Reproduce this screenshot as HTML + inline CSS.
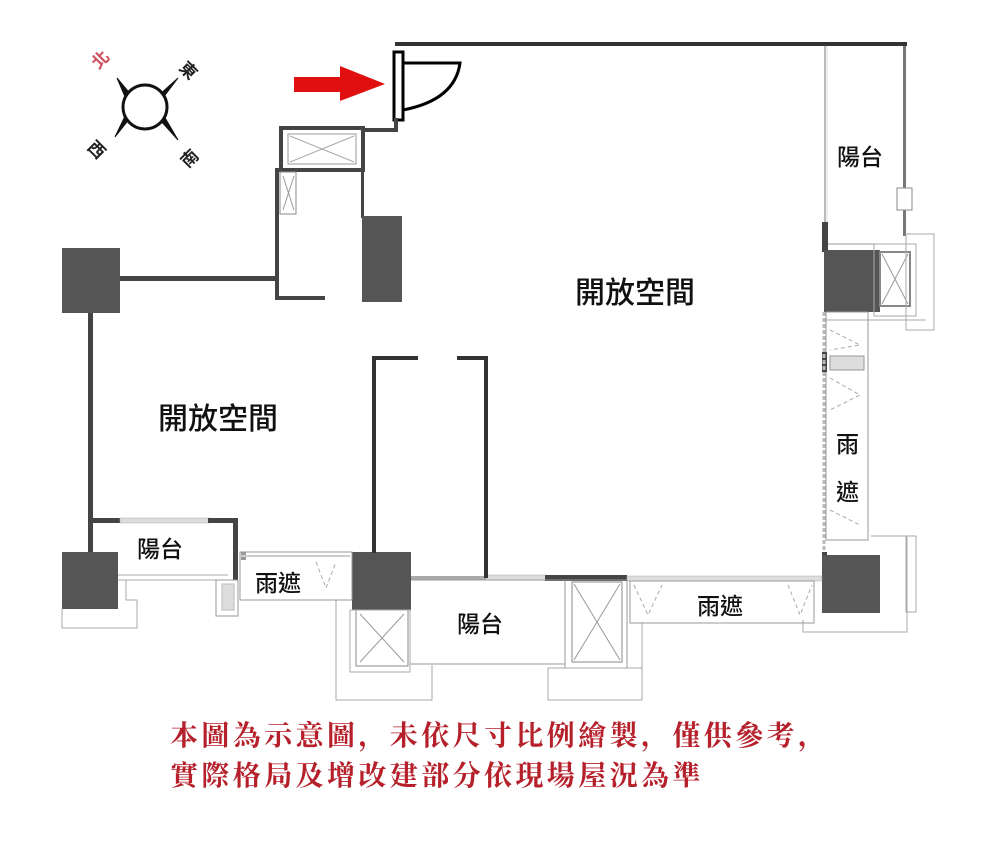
<!DOCTYPE html>
<html><head><meta charset="utf-8"><style>
html,body{margin:0;padding:0;background:#fff;}
svg{display:block;}
.lbl{font-family:"Liberation Sans","Noto Sans CJK TC",sans-serif;font-size:23px;fill:#111;font-weight:500;}
.big{font-size:30px;}
.red{font-family:"Liberation Serif","Noto Serif CJK SC",serif;font-size:28px;fill:#b5202a;letter-spacing:3.4px;font-weight:bold;}
.cmp{font-family:"Noto Sans CJK TC",sans-serif;font-size:17px;font-weight:bold;}
</style></head><body>
<svg width="1000" height="844" viewBox="0 0 1000 844" xmlns="http://www.w3.org/2000/svg">
<rect width="1000" height="844" fill="#fff"/>
<!-- compass -->
<g stroke="#111" fill="#fff">
<path d="M117,78 L132,96 L126,99 Z" fill="#111"/>
<path d="M178,78 L158,96 L162,99 Z" fill="#111"/>
<path d="M115,137 L130,118 L126,114 Z" fill="#111"/>
<path d="M178,140 L160,120 L164,116 Z" fill="#111"/>
<circle cx="145" cy="107" r="22" stroke-width="3"/>
</g>
<text class="cmp" x="92" y="66" transform="rotate(-45 100 60)" fill="#d05060">北</text>
<text class="cmp" x="180" y="76" transform="rotate(45 188 70)" fill="#222">東</text>
<text class="cmp" x="88" y="156" transform="rotate(45 97 150)" fill="#222">西</text>
<text class="cmp" x="181" y="164" transform="rotate(-45 190 158)" fill="#222">南</text>
<!-- red arrow -->
<path d="M294,77 L340,77 L340,66 L385,84 L340,101 L340,92 L294,92 Z" fill="#e01010"/>
<!-- entrance door -->
<rect x="394" y="52" width="9" height="68" fill="#fff" stroke="#000" stroke-width="3"/>
<path d="M403,63 L460,63 Q455,100 403,110" fill="none" stroke="#000" stroke-width="3"/>
<!-- top wall -->
<rect x="395" y="42" width="512" height="4" fill="#333"/>
<!-- right top balcony -->
<rect x="824" y="46" width="4" height="176" fill="#bbb"/>
<line x1="827" y1="46" x2="827" y2="222" stroke="#fff" stroke-width="1.5"/>
<rect x="903" y="46" width="3" height="190" fill="#777"/>
<rect x="897" y="188" width="15" height="22" fill="#fff" stroke="#888"/>
<rect x="822" y="222" width="6" height="30" fill="#444"/>
<line x1="828" y1="244" x2="906" y2="244" stroke="#999"/>
<!-- right pillar + X box -->
<rect x="824" y="250" width="56" height="62" fill="#555"/>
<rect x="880" y="252" width="30" height="54" fill="#fff" stroke="#888" stroke-width="2"/>
<path d="M882,254 L908,304 M908,254 L882,304" stroke="#999"/>
<rect x="874" y="244" width="42" height="72" fill="none" stroke="#aaa"/>
<rect x="906" y="234" width="28" height="96" fill="none" stroke="#aaa"/>
<line x1="826" y1="320" x2="926" y2="320" stroke="#aaa"/>
<!-- right rain shelter column -->
<rect x="826" y="312" width="42" height="228" fill="none" stroke="#999"/>
<rect x="822" y="352" width="5" height="20" fill="#444"/>
<rect x="830" y="356" width="34" height="14" fill="#ddd" stroke="#999"/>
<path d="M830,330 L860,345 L830,350 M830,378 L860,395 L830,410 M830,510 L860,525" stroke="#aaa" stroke-dasharray="4,3" fill="none"/>
<line x1="824" y1="312" x2="824" y2="555" stroke="#bbb" stroke-width="3" stroke-dasharray="4,2"/>
<!-- right bottom pillar -->
<rect x="906" y="536" width="10" height="76" fill="none" stroke="#aaa"/>
<path d="M871,536 L907,536 L907,632 L803,632 L803,620" fill="none" stroke="#aaa"/>
<rect x="822" y="552" width="5" height="30" fill="#444"/>
<rect x="822" y="555" width="58" height="58" fill="#555"/>
<!-- main bottom wall -->
<rect x="410" y="576" width="76" height="4" fill="#aaa"/>
<rect x="486" y="575" width="60" height="5" fill="#ddd" stroke="#aaa" stroke-width="0.5"/>
<rect x="545" y="575" width="82" height="6" fill="#444"/>
<rect x="627" y="576" width="195" height="5" fill="#ddd" stroke="#aaa" stroke-width="0.5"/>
<!-- bottom rain shelter -->
<rect x="630" y="581" width="184" height="42" fill="none" stroke="#999"/>
<path d="M634,585 L648,615 L662,585 M788,585 L800,615 L812,585" stroke="#aaa" stroke-dasharray="4,3" fill="none"/>
<!-- bottom balcony -->
<rect x="410" y="580" width="155" height="84" fill="none" stroke="#999"/>
<rect x="565" y="580" width="62" height="88" fill="none" stroke="#999"/>
<rect x="572" y="582" width="50" height="80" fill="none" stroke="#888"/>
<path d="M574,584 L620,660 M620,584 L574,660" stroke="#999"/>
<rect x="548" y="668" width="94" height="32" fill="none" stroke="#aaa"/>
<line x1="642" y1="622" x2="642" y2="700" stroke="#aaa"/>
<!-- bottom pillar center -->
<rect x="352" y="552" width="59" height="58" fill="#555"/>
<rect x="356" y="610" width="52" height="56" fill="none" stroke="#888"/>
<path d="M360,614 L404,662 M404,614 L360,662" stroke="#999"/>
<rect x="350" y="610" width="60" height="62" fill="none" stroke="#aaa"/>
<path d="M336,600 L336,700 L432,700 L432,665" fill="none" stroke="#aaa"/>
<!-- partitions -->
<path d="M418,358 L374,358 L374,553" fill="none" stroke="#333" stroke-width="4"/>
<path d="M457,358 L486,358 L486,578" fill="none" stroke="#333" stroke-width="4"/>
<!-- top core -->
<rect x="281" y="128" width="82" height="42" fill="#fff" stroke="#444" stroke-width="4"/>
<rect x="288" y="134" width="68" height="30" fill="none" stroke="#999"/>
<path d="M290,136 L354,162 M354,136 L290,162" stroke="#aaa"/>
<path d="M363,130 L396,130 L396,118" fill="none" stroke="#444" stroke-width="4"/>
<path d="M282,170 L277,170 L277,298 L325,298" fill="none" stroke="#444" stroke-width="4"/>
<rect x="280" y="172" width="16" height="42" fill="#fff" stroke="#888"/>
<path d="M283,176 L294,210 M294,176 L283,210" stroke="#999"/>
<rect x="361" y="170" width="3" height="48" fill="#444"/>
<rect x="362" y="216" width="40" height="86" fill="#555"/>
<!-- left -->
<rect x="120" y="276" width="157" height="5" fill="#444"/>
<rect x="62" y="248" width="58" height="65" fill="#555"/>
<rect x="88" y="313" width="5" height="240" fill="#444"/>
<rect x="90" y="518" width="30" height="5" fill="#444"/>
<rect x="120" y="518" width="90" height="5" fill="#ddd" stroke="#aaa" stroke-width="0.5"/>
<rect x="208" y="518" width="30" height="5" fill="#444"/>
<rect x="233" y="518" width="5" height="62" fill="#444"/>
<rect x="62" y="552" width="56" height="57" fill="#555"/>
<path d="M118,575 L228,575 M118,580 L228,580" stroke="#aaa"/>
<path d="M126,580 L126,600 L137,600 L137,628 L62,628 L62,609" fill="none" stroke="#aaa"/>
<rect x="216" y="580" width="22" height="36" fill="#fff" stroke="#999"/>
<rect x="222" y="584" width="12" height="26" fill="#ddd" stroke="#bbb"/>
<!-- left rain shelter -->
<rect x="241" y="552" width="5" height="8" fill="#999"/>
<rect x="240" y="552" width="112" height="48" fill="none" stroke="#999"/>
<line x1="240" y1="556" x2="350" y2="556" stroke="#ccc" stroke-width="2"/>
<path d="M316,562 L326,588 L336,562" stroke="#aaa" stroke-dasharray="4,3" fill="none"/>
<!-- labels -->
<text class="lbl big" x="575" y="303">開放空間</text>
<text class="lbl big" x="158" y="429">開放空間</text>
<text class="lbl" x="837" y="165">陽台</text>
<text class="lbl" x="836" y="452">雨</text>
<text class="lbl" x="836" y="500">遮</text>
<text class="lbl" x="137" y="557">陽台</text>
<text class="lbl" x="255" y="591">雨遮</text>
<text class="lbl" x="457" y="632">陽台</text>
<text class="lbl" x="697" y="614">雨遮</text>
<!-- notice -->
<text class="red" x="170" y="745">本圖為示意圖，未依尺寸比例繪製，僅供參考，</text>
<text class="red" x="170" y="785">實際格局及增改建部分依現場屋況為準</text>
</svg>
</body></html>
